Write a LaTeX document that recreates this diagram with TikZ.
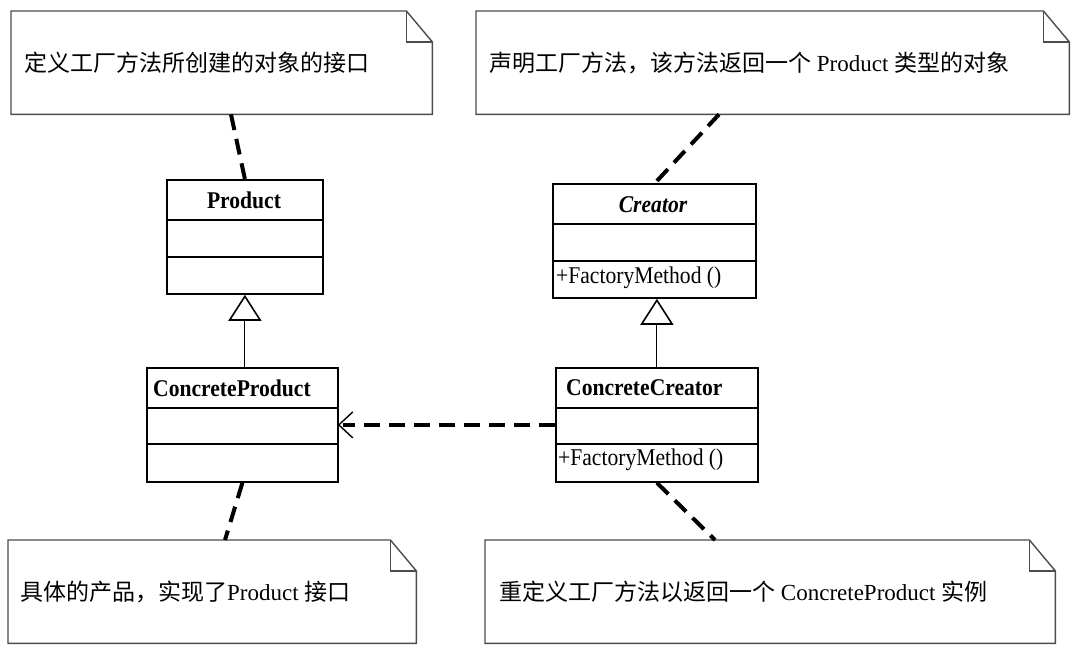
\documentclass[tikz,border=0pt]{standalone}
\usepackage{fontspec}
\setmainfont{Liberation Serif}
\newfontfamily\cjk{Noto Sans CJK SC}
\newfontfamily\lat[FakeStretch=0.9]{Liberation Serif}
\usetikzlibrary{arrows.meta}
\begin{document}
\begin{tikzpicture}[x=1pt,y=-1pt,
  clsbox/.style={draw=black,line width=1.8pt,anchor=north west,inner sep=0pt,fill=white},
  clsline/.style={draw=black,line width=1.8pt},
  notebox/.style={draw=none,anchor=north west,inner sep=0pt},
  noteline/.style={draw=black!70,line width=1.4pt,line join=miter},
  notetext/.style={anchor=west,inner sep=0pt,font=\fontsize{23}{26}\selectfont},
  clslabel/.style={inner sep=0pt,font=\lat\fontsize{24}{27}\selectfont\bfseries},
  method/.style={anchor=west,inner sep=0pt,font=\lat\fontsize{24}{27}\selectfont},
  dep/.style={draw=black,line width=4pt,dash pattern=on 16pt off 9pt},
  headline/.style={draw=black,line width=1.4pt},
  inherit/.style={draw=black,line width=1pt,-{Triangle[length=26pt,width=33pt,fill=white,line width=1.6pt]}}
]
\useasboundingbox[fill=white] (0,0) rectangle (1080,653);

% ---------- notes ----------
\node[notebox,minimum width=421pt,minimum height=103pt] (n1) at (11,11) {};
\node[notebox,minimum width=593pt,minimum height=103pt] (n2) at (476,11) {};
\node[notebox,minimum width=408pt,minimum height=103pt] (n3) at (8,540) {};
\node[notebox,minimum width=570pt,minimum height=103pt] (n4) at (485,540) {};

\foreach \n in {n1,n2,n3,n4}{
  \draw[noteline] (\n.north west) -- ([xshift=-26pt]\n.north east)
     -- ([yshift=-31pt]\n.north east) -- (\n.south east) -- (\n.south west) -- cycle;
  \draw[noteline] ([xshift=-26pt]\n.north east) -- ([xshift=-26pt,yshift=-31pt]\n.north east)
     -- ([yshift=-31pt]\n.north east);
}

\node[notetext] (t1) at (24,63) {\cjk 定义工厂方法所创建的对象的接口};
\node[notetext] (t2) at (489,63) {{\cjk 声明工厂方法，该方法返回一个} Product {\cjk 类型的对象}};
\node[notetext] (t3) at (20,592) {{\cjk 具体的产品，实现了}Product {\cjk 接口}};
\node[notetext] (t4) at (499,592) {{\cjk 重定义工厂方法以返回一个} ConcreteProduct {\cjk 实例}};

% ---------- classes ----------
\node[clsbox,minimum width=156pt,minimum height=114pt] (prod) at (166,179) {};
\node[clsbox,minimum width=203pt,minimum height=114pt] (creator) at (552,183) {};
\node[clsbox,minimum width=191pt,minimum height=114pt] (cprod) at (146,367) {};
\node[clsbox,minimum width=202pt,minimum height=114pt] (ccreator) at (555,367) {};

\draw[clsline] ([yshift=-41pt]prod.north west) -- ([yshift=-41pt]prod.north east);
\draw[clsline] ([yshift=-78pt]prod.north west) -- ([yshift=-78pt]prod.north east);
\draw[clsline] ([yshift=-41pt]creator.north west) -- ([yshift=-41pt]creator.north east);
\draw[clsline] ([yshift=-78pt]creator.north west) -- ([yshift=-78pt]creator.north east);
\draw[clsline] ([yshift=-41pt]cprod.north west) -- ([yshift=-41pt]cprod.north east);
\draw[clsline] ([yshift=-77pt]cprod.north west) -- ([yshift=-77pt]cprod.north east);
\draw[clsline] ([yshift=-41pt]ccreator.north west) -- ([yshift=-41pt]ccreator.north east);
\draw[clsline] ([yshift=-77pt]ccreator.north west) -- ([yshift=-77pt]ccreator.north east);

\node[clslabel] (lprod) at (244,200) {Product};
\node[clslabel,font=\lat\fontsize{24}{27}\selectfont\bfseries\itshape] (lcreator) at (653,205) {Creator};
\node[clslabel,anchor=west] (lcprod) at (153,388) {ConcreteProduct};
\node[clslabel,anchor=west] (lccreator) at (566,388) {ConcreteCreator};
\node[method] (m1) at (556,278) {+FactoryMethod ()};
\node[method] (m2) at (558,460) {+FactoryMethod ()};

% ---------- connectors ----------
\draw[dep] ([xshift=220pt]n1.south west) -- (prod.north);
\draw[dep] ([xshift=243pt]n2.south west) -- ([xshift=103pt]creator.north west);
\draw[dep] (cprod.south) -- ([xshift=217pt]n3.north west);
\draw[dep] (ccreator.south) -- ([xshift=230pt]n4.north west);
\draw[dep] (ccreator.west) -- ([xshift=4pt]cprod.east);
\draw[headline] ([xshift=14pt,yshift=13pt]cprod.east) -- (cprod.east) -- ([xshift=14pt,yshift=-13pt]cprod.east);

\draw[inherit] (prod.south |- cprod.north) -- (prod.south);
\draw[inherit] (ccreator.north) -- (ccreator.north |- creator.south);
\end{tikzpicture}
\end{document}
